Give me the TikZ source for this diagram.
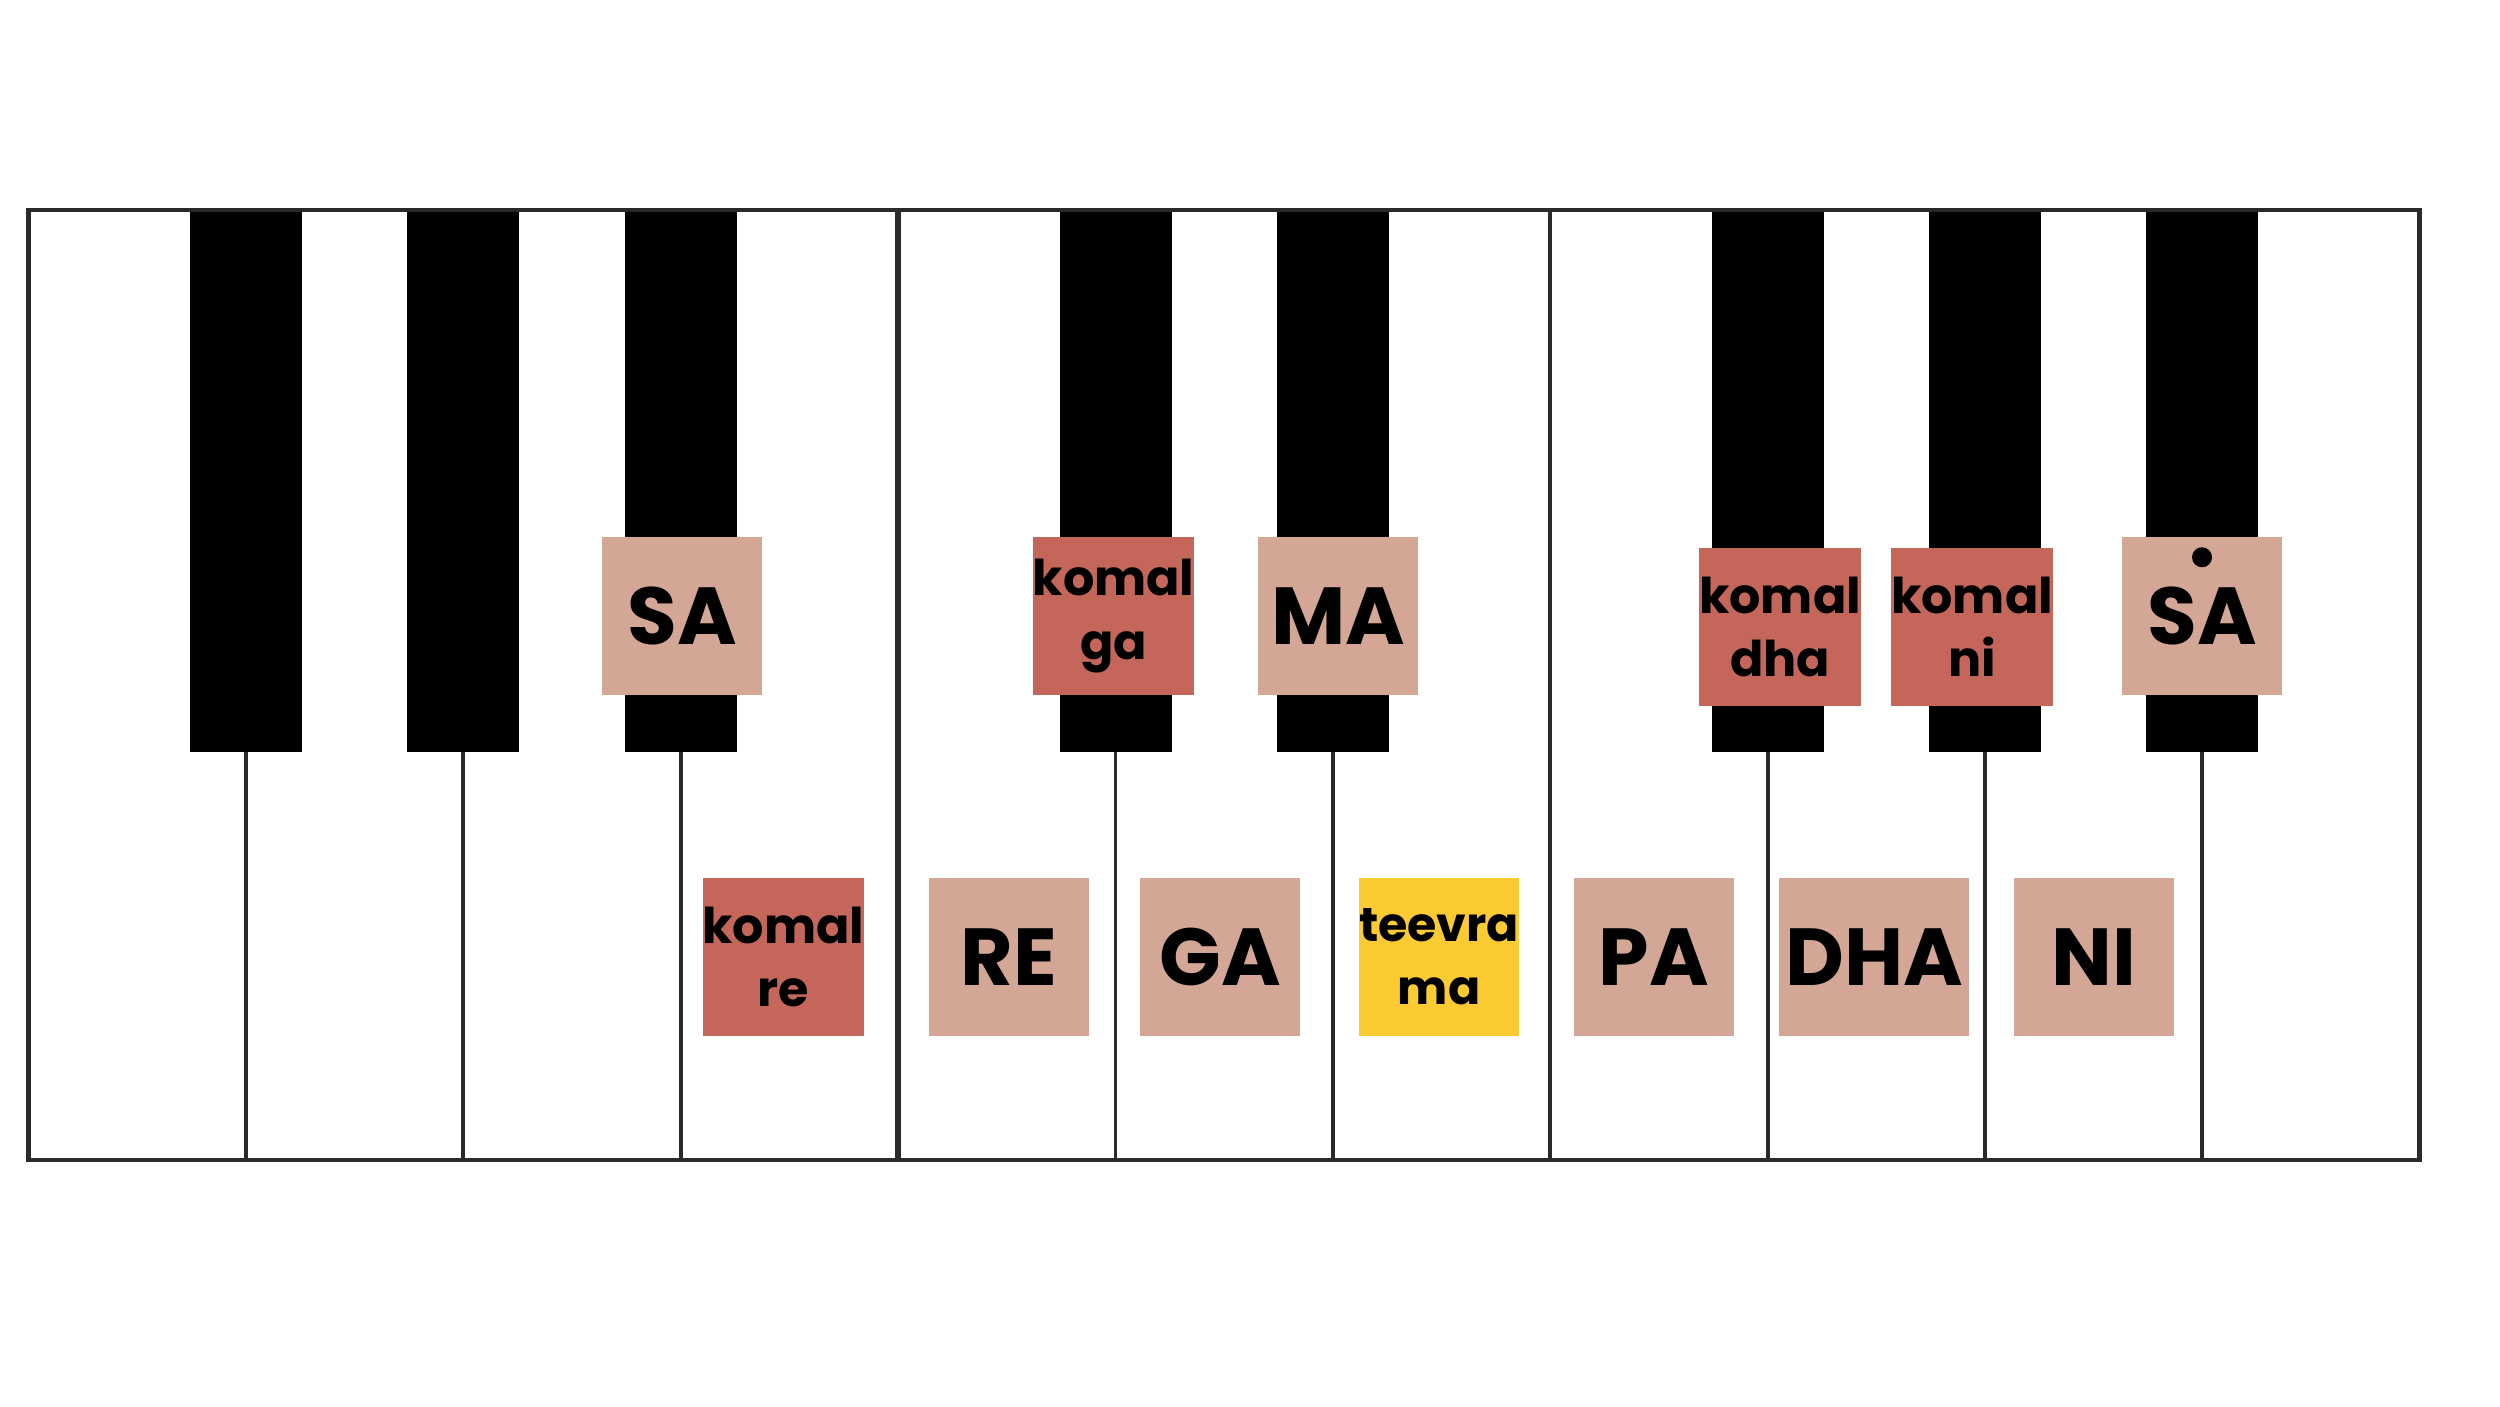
\documentclass[tikz,border=0pt]{standalone}
\usepackage{fontspec}
\setmainfont{Poppins}
\definecolor{shuddhpink}{HTML}{D3A696}
\definecolor{komalred}{HTML}{C4665A}
\definecolor{teevrayellow}{HTML}{FCCA32}
\definecolor{keyline}{HTML}{2A2A2A}

\begin{document}
\begin{tikzpicture}[x=0.01cm,y=-0.01cm]
      \tikzstyle{note}=[rectangle,inner sep=0pt,minimum width=1.59cm,minimum height=1.58cm,align=center]
      \tikzstyle{shuddh}=[note,fill=shuddhpink,font=\bfseries\fontsize{23}{23}\selectfont]
      \tikzstyle{komal}=[note,fill=komalred,font=\bfseries\fontsize{14}{18}\selectfont]
      \tikzstyle{teevra}=[note,fill=teevrayellow,font=\bfseries\fontsize{13.5}{18}\selectfont]
      \useasboundingbox (0,0) rectangle (2500,1406);
      \fill[white] (0,0) rectangle (2500,1406);
      % white keys
      \foreach \k in {1,2,3,5,6,8,9,10}
        \draw[keyline,line width=1.1pt] ({28.7+217.36*\k},752) -- ({28.7+217.36*\k},1160);
      \draw[keyline,line width=1.6pt] ({28.7+217.36*4},210) -- ({28.7+217.36*4},1160);
      \draw[keyline,line width=1pt] ({28.7+217.36*7},210) -- ({28.7+217.36*7},1160);
      % black keys
      \foreach \k in {1,2,3,5,6,8,9,10}
        \fill ({28.7+217.36*\k-56},210) rectangle ({28.7+217.36*\k+56},752);
      \draw[keyline,line width=1.3pt] (28.7,210) rectangle (2419.7,1160);
      % notes
      \node[shuddh] (sa) at (682,616) {SA};
      \node[komal] (komalga) at (1113.5,616) {komal\\ga};
      \node[shuddh] (ma) at (1338,616) {MA};
      \node[komal] (komaldha) at (1780,627) {komal\\dha};
      \node[komal] (komalni) at (1972,627) {komal\\ni};
      \node[shuddh] (taarsa) at (2202,616) {SA};
      \fill ([yshift=-2.1mm]taarsa.north) circle[radius=1mm];
      \node[komal] (komalre) at (783.5,957) {komal\\re};
      \node[shuddh] (re) at (1009,957) {RE};
      \node[shuddh] (ga) at (1220,957) {GA};
      \node[teevra] (teevrama) at (1439,957) {teevra\\ma};
      \node[shuddh] (pa) at (1654,957) {PA};
      \node[shuddh,minimum width=1.9cm] (dha) at (1874,957) {DHA};
      \node[shuddh] (ni) at (2094,957) {NI};
\end{tikzpicture}
\end{document}
